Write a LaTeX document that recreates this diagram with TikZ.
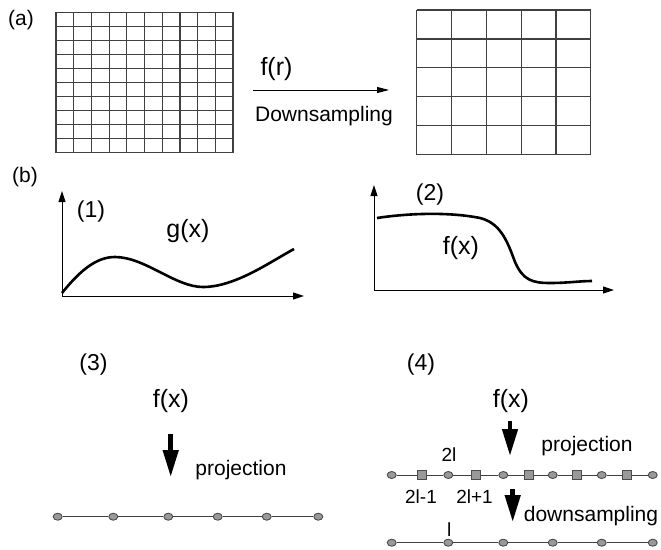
\documentclass[tikz,border=0pt]{standalone}
\usepackage{fontspec}
\setmainfont{Liberation Sans}
\usetikzlibrary{arrows.meta,shapes.geometric}
\tikzset{
  gridline/.style={draw=black!75, line width=1.2pt},
  axis/.style={draw=black, line width=1pt, -{Triangle[length=11pt,width=7pt]}},
  curve/.style={draw=black, line width=2.6pt},
  lbl/.style={inner sep=0pt, font=\fontsize{21}{21}\selectfont},
  biglbl/.style={inner sep=0pt, font=\fontsize{25}{25}\selectfont},
  smlbl/.style={inner sep=0pt, font=\fontsize{19}{19}\selectfont},
  dot/.style={ellipse, draw=black!70, fill=black!40, line width=0.9pt, minimum width=9pt, minimum height=7pt, inner sep=0pt},
  sq/.style={rectangle, draw=black!70, fill=black!40, line width=0.9pt, minimum size=9pt, inner sep=0pt},
  bigarrow/.style={draw=black, line width=4.5pt, -{Triangle[length=27pt,width=15pt]}},
  thinarrow/.style={draw=black, line width=1pt, -{Triangle[length=12pt,width=6pt]}},
  seg/.style={draw=black!75, line width=1pt}
}
\begin{document}
\begin{tikzpicture}[x=1pt,y=-1pt]
\useasboundingbox (0,0) rectangle (661,549);
% (a)
\node[lbl] (la) at (21,20) {(a)};
\foreach \i in {0,...,10} {\draw[gridline] ({56+\i*17.7},12.3) -- ({56+\i*17.7},152.7);}
\foreach \j in {0,...,10} {\draw[gridline] (56,{12.3+\j*14.04}) -- (233,{12.3+\j*14.04});}
\foreach \i in {0,...,5} {\draw[gridline] ({416.7+\i*34.8},10) -- ({416.7+\i*34.8},154.7);}
\foreach \j in {0,...,5} {\draw[gridline] (416.7,{10+\j*28.94}) -- (590.7,{10+\j*28.94});}
\coordinate (aS) at (253,90);
\coordinate (aE) at (389,90);
\draw[thinarrow] (aS) -- (aE);
\node[biglbl] (fr) at (276.5,69) {f(r)};
\node[lbl] (down) at (324,116) {Downsampling};
% (b)
\node[lbl] (lb) at (25,177) {(b)};
% graph 1
\coordinate (o1) at (62,296);
\coordinate (y1) at (62,191);
\coordinate (x1) at (304,296);
\draw[axis] (o1) -- (y1);
\draw[axis] (o1) -- (x1);
\draw[curve] (62,293) .. controls (82,268) and (98,257) .. (115,257)
  .. controls (145,257) and (175,287) .. (203,287)
  .. controls (235,287) and (270,262) .. (294,249);
\node[lbl,font=\fontsize{23}{23}\selectfont] (n1) at (91,212) {(1)};
\node[biglbl] (gx) at (188,231) {g(x)};
% graph 2
\coordinate (o2) at (374,290);
\coordinate (y2) at (374,185);
\coordinate (x2) at (614,290);
\draw[axis] (o2) -- (y2);
\draw[axis] (o2) -- (x2);
\draw[curve] (377,218) .. controls (410,213) and (450,212) .. (480,218)
  .. controls (500,223) and (507,240) .. (515,262)
  .. controls (523,280) and (532,283) .. (550,283)
  .. controls (568,283) and (580,281) .. (592,281);
\node[lbl,font=\fontsize{23}{23}\selectfont] (n2) at (430,195) {(2)};
\node[biglbl] (fx2) at (461,248) {f(x)};
% (3)
\node[lbl,font=\fontsize{23}{23}\selectfont] (n3) at (93.5,365) {(3)};
\node[biglbl] (fx3) at (171,401) {f(x)};
\coordinate (p3s) at (170.7,434);
\coordinate (p3e) at (170.7,477);
\draw[bigarrow] (p3s) -- (p3e);
\node[lbl] (proj3) at (241,470) {projection};
\foreach \k/\x in {1/57.7,2/113.3,3/168.3,4/217.7,5/266.7,6/318.3} {\node[dot] (c\k) at (\x,516.7) {};}
\draw[seg] (c1) -- (c2) -- (c3) -- (c4) -- (c5) -- (c6);
% (4)
\node[lbl,font=\fontsize{23}{23}\selectfont] (n4) at (421,365) {(4)};
\node[biglbl] (fx4) at (511,401) {f(x)};
\coordinate (p4s) at (510,421);
\coordinate (p4e) at (510,456);
\draw[bigarrow] (p4s) -- (p4e);
\node[lbl] (proj4) at (587,446) {projection};
\node[smlbl] (t2l) at (449,455) {2l};
\foreach \k/\x/\s in {1/391.7/dot,2/421.7/sq,3/448.3/dot,4/476/sq,5/503.3/dot,6/529.3/sq,7/552.7/dot,8/577.3/sq,9/601.7/dot,10/626.7/sq,11/652.7/dot} {\node[\s] (u\k) at (\x,475) {};}
\draw[seg] (u1) -- (u2) -- (u3) -- (u4) -- (u5) -- (u6) -- (u7) -- (u8) -- (u9) -- (u10) -- (u11);
\node[smlbl] (t2lm) at (421,497) {2l-1};
\node[smlbl] (t2lp) at (474.5,497) {2l+1};
\coordinate (d4s) at (512.7,489);
\coordinate (d4e) at (512.7,522);
\draw[bigarrow] (d4s) -- (d4e);
\node[lbl] (down4) at (591,516) {downsampling};
\node[smlbl] (tl) at (449.3,530) {l};
\foreach \k/\x in {1/391.7,2/448.3,3/503.3,4/552.7,5/601.7,6/652.7} {\node[dot] (v\k) at (\x,542.7) {};}
\draw[seg] (v1) -- (v2) -- (v3) -- (v4) -- (v5) -- (v6);
\end{tikzpicture}
\end{document}
